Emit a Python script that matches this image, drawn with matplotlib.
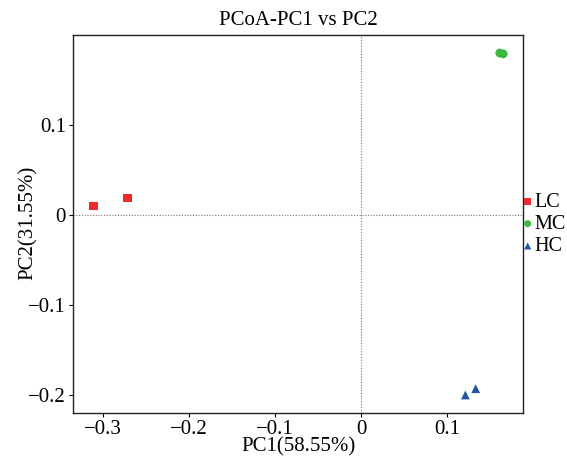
import matplotlib
matplotlib.use("Agg")
import matplotlib.pyplot as plt

plt.rcParams['font.family'] = ['Liberation Serif', 'DejaVu Serif']
plt.rcParams['axes.unicode_minus'] = True

# Groupes et coordonnées PCoA
groups = ["LC", "MC", "HC"]
pc1 = {"LC": [-0.311, -0.272], "MC": [0.161, 0.165], "HC": [0.121, 0.133]}
pc2 = {"LC": [0.010, 0.019], "MC": [0.180, 0.179], "HC": [-0.200, -0.193]}
colors = {"LC": "#ee2a2a", "MC": "#3db83d", "HC": "#2453a8"}
markers = {"LC": "s", "MC": "o", "HC": "^"}

fig = plt.figure(figsize=(5.67, 4.59), dpi=100)
ax = fig.add_axes([73/567, 1 - 413/459, 450/567, 378/459])

for g in groups:
    ax.scatter(pc1[g], pc2[g], c=colors[g], marker=markers[g], s=40,
               edgecolors='none', label=g, zorder=3)

ax.axhline(0, color='#777777', lw=0.8, ls=(0, (1, 1.5)), zorder=1)
ax.axvline(0, color='#777777', lw=0.8, ls=(0, (1, 1.5)), zorder=1)

ax.set_xlim(-0.3352, 0.188)
ax.set_ylim(-0.22, 0.2)
ax.set_xticks([-0.3, -0.2, -0.1, 0, 0.1])
ax.set_xticklabels(["\u22120.3", "\u22120.2", "\u22120.1", "0", "0.1"])
ax.set_yticks([-0.2, -0.1, 0, 0.1])
ax.set_yticklabels(["\u22120.2", "\u22120.1", "0", "0.1"])
ax.tick_params(labelsize=15, length=3, width=0.8, pad=2)
for sp in ax.spines.values():
    sp.set_linewidth(1.0)
    sp.set_color('#222222')

ax.set_title("PCoA-PC1 vs PC2", fontsize=15, pad=7)
ax.set_xlabel("PC1(58.55%)", fontsize=15)
ax.set_ylabel("PC2(31.55%)", fontsize=15)
ax.xaxis.set_label_coords(0.5, -0.09, transform=ax.transAxes)
ax.yaxis.set_label_coords(-0.1, 0.503, transform=ax.transAxes)
ax.xaxis.label.set_va('center')
ax.yaxis.label.set_va('center')

ax.legend(loc='center left', bbox_to_anchor=(0.997, 0.499), frameon=False,
          fontsize=14.5, handletextpad=0.05, borderaxespad=0.0, borderpad=0.0,
          labelspacing=0.16, handlelength=0.6, markerscale=0.8)

fig.savefig("out.png", dpi=100)
